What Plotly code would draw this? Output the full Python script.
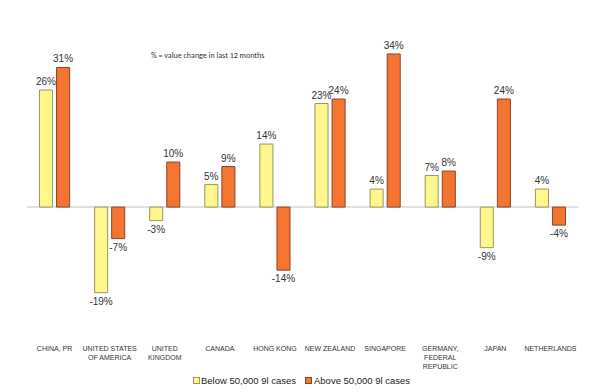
import plotly.graph_objects as go

categories = ["CHINA, PR", "UNITED STATES<br>OF AMERICA", "UNITED<br>KINGDOM", "CANADA", "HONG KONG",
              "NEW ZEALAND", "SINGAPORE", "GERMANY,<br>FEDERAL<br>REPUBLIC", "JAPAN", "NETHERLANDS"]
below_50k = [26, -19, -3, 5, 14, 23, 4, 7, -9, 4]
above_50k = [31, -7, 10, 9, -14, 24, 34, 8, 24, -4]
series_names = ["Below 50,000 9l cases", "Above 50,000 9l cases"]
colors = ["#FFF68C", "#F47431"]
borders = ["#9A9560", "#8A4426"]

fig = go.Figure()
for vals, name, c, bc in zip([below_50k, above_50k], series_names, colors, borders):
    fig.add_trace(go.Bar(
        x=categories, y=vals, name=name, showlegend=False,
        marker=dict(color=c, line=dict(color=bc, width=1)),
        text=[f"{v}%" for v in vals], textposition="outside",
        textfont=dict(size=10, color="#333333", family="Arial"), cliponaxis=False,
    ))

W, H, L, R, T, B = 592, 384, 19, 22, 32, 57
pw, ph = W - L - R, H - T - B
def px(x):
    return (x - L) / pw
def py(y):
    return (H - B - y) / ph

annotations = [dict(text="% = value change in last 12 months", x=px(199.5), y=py(47), xref="paper", yref="paper",
                    xanchor="center", yanchor="middle", showarrow=False,
                    font=dict(size=8, color="#333333", family="Calibri, Carlito, Arial"))]
# legend swatches and labels
for sx, tx, name, c, bc in zip([188, 300], [191, 304], series_names, colors, borders):
    annotations.append(dict(text=" ", x=px(sx), y=py(372), xref="paper", yref="paper", showarrow=False,
                            xanchor="center", yanchor="middle",
                            width=5, height=5, bgcolor=c, bordercolor=bc, borderwidth=1, borderpad=0,
                            font=dict(size=1)))
    annotations.append(dict(text=name, x=px(tx), y=py(372), xref="paper", yref="paper", showarrow=False,
                            xanchor="left", yanchor="middle",
                            font=dict(size=9.5, color="#222222", family="Arial")))

fig.update_layout(
    width=W, height=H,
    paper_bgcolor="white", plot_bgcolor="white",
    margin=dict(l=L, r=R, t=T, b=B),
    barmode="group", bargap=0.38, bargroupgap=0.235,
    font=dict(family="Arial", color="#333333"),
    showlegend=False,
    uniformtext=dict(minsize=10, mode="show"),
    xaxis=dict(showgrid=False, showline=False, ticks="", tickangle=0, automargin=False,
               ticklabelstandoff=8,
               tickfont=dict(size=7, color="#333333", family="Arial")),
    yaxis=dict(range=[-28.4, 37.1], showgrid=False, showticklabels=False, automargin=False,
               zeroline=True, zerolinecolor="#E0E0E0", zerolinewidth=2, showline=False),
    annotations=annotations,
)
fig.write_html("out.html")
